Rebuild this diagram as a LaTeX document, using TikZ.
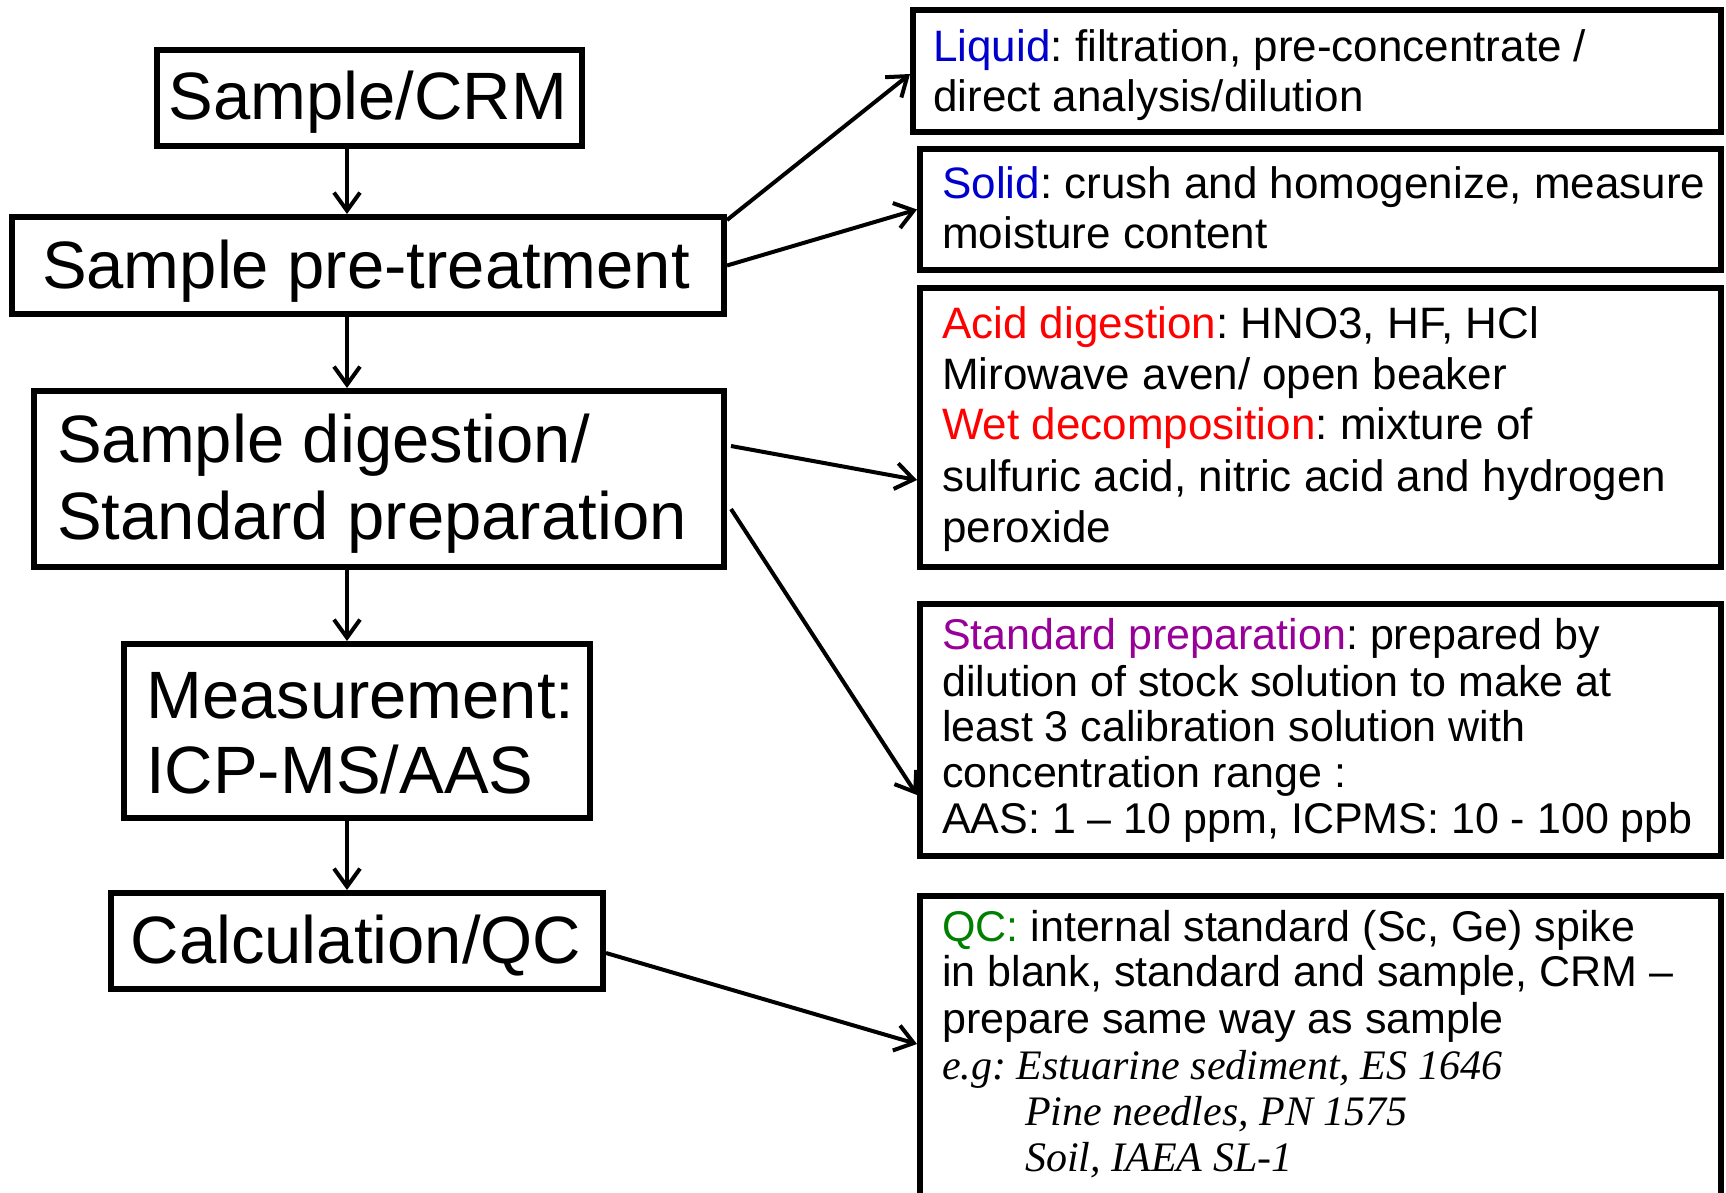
\documentclass[tikz,border=0pt]{standalone}
\usepackage{fontspec}
\setmainfont{Liberation Sans}
\newfontfamily\tms{Liberation Serif}
\usetikzlibrary{arrows.meta,calc}
\definecolor{cblue}{RGB}{0,0,204}
\definecolor{cred}{RGB}{255,0,0}
\definecolor{cpurple}{RGB}{153,0,153}
\definecolor{cgreen}{RGB}{0,128,0}
\begin{document}
\frenchspacing
\begin{tikzpicture}[x=1pt,y=-1pt,
  box/.style={draw,line width=6pt,inner sep=0pt},
  arr/.style={line width=4pt,-{Straight Barb[length=18pt,width=26pt]}},
  big/.style={font=\fontsize{67}{75}\selectfont,inner sep=0pt},
  sm/.style={font=\fontsize{44}{51}\selectfont,inner sep=0pt,anchor=base west},
  smb/.style={font=\fontsize{43}{46}\selectfont,inner sep=0pt,anchor=base west},
  ita/.style={font=\fontsize{42}{46}\tms\itshape,inner sep=0pt,anchor=base west},
]
\useasboundingbox (0,0) rectangle (1726,1192);
\fill[white] (0,0) rectangle (1726,1192);

% left boxes
\node[box,minimum width=425pt,minimum height=96pt] (crm) at (369.5,98) {};
\node[box,minimum width=712pt,minimum height=97pt] (pre) at (368,265.5) {};
\node[box,minimum width=690pt,minimum height=176pt] (dig) at (379,479) {};
\node[box,minimum width=466pt,minimum height=174pt] (meas) at (357,731) {};
\node[box,minimum width=492pt,minimum height=96pt] (calc) at (357,941) {};

% right boxes
\node[box,minimum width=808pt,minimum height=122pt] (liq) at (1317,71) {};
\node[box,minimum width=801pt,minimum height=121pt] (sol) at (1320.5,209.5) {};
\node[box,minimum width=801pt,minimum height=279pt] (acid) at (1320.5,427.5) {};
\node[box,minimum width=801pt,minimum height=252pt] (std) at (1320.5,730) {};
\node[box,minimum width=801pt,minimum height=304pt] (qc) at (1320.5,1048) {};

% left texts
\node[big,anchor=base] (t1) at (368,119) {Sample/CRM};
\node[big,anchor=base] (t2) at (366,288) {Sample pre-treatment};
\node[big,anchor=base west] (t3a) at (57,462) {Sample digestion/};
\node[big,anchor=base west] (t3b) at (57,539) {Standard preparation};
\node[big,anchor=base west] (t4a) at (146,718) {Measurement:};
\node[big,anchor=base west] (t4b) at (146,793) {ICP-MS/AAS};
\node[big,anchor=base] (t5) at (356,963) {Calculation/QC};

% right texts
\node[sm] (l1) at (933,61) {\textcolor{cblue}{Liquid}: filtration, pre-concentrate /};
\node[sm] (l2) at (933,111) {direct analysis/dilution};
\node[sm] (s1) at (942,198) {\textcolor{cblue}{Solid}: crush and homogenize, measure};
\node[sm] (s2) at (942,248) {moisture content};
\node[sm] (a1) at (942,338) {\textcolor{cred}{Acid digestion}: HNO3, HF, HCl};
\node[sm] (a2) at (942,389) {Mirowave aven/ open beaker};
\node[sm] (a3) at (942,439) {\textcolor{cred}{Wet decomposition}: mixture of};
\node[sm] (a4) at (942,491) {sulfuric acid, nitric acid and hydrogen};
\node[sm] (a5) at (942,542) {peroxide};
\node[smb] (p1) at (942,649) {\textcolor{cpurple}{Standard preparation}: prepared by};
\node[smb] (p2) at (942,696) {dilution of stock solution to make at};
\node[smb] (p3) at (942,741) {least 3 calibration solution with};
\node[smb] (p4) at (942,787) {concentration range :};
\node[smb] (p5) at (942,833) {AAS: 1 – 10 ppm, ICPMS: 10 - 100 ppb};
\node[smb] (q1) at (942,941) {\textcolor{cgreen}{QC:} internal standard (Sc, Ge) spike};
\node[smb] (q2) at (942,986) {in blank, standard and sample, CRM –};
\node[smb] (q3) at (942,1033) {prepare same way as sample};
\node[ita] (q4) at (942,1079) {e.g: Estuarine sediment, ES 1646};
\node[ita] (q5) at (1025,1125) {Pine needles, PN 1575};
\node[ita] (q6) at (1025,1171) {Soil, IAEA SL-1};

% vertical arrows
\coordinate (ax) at (347,0);
\draw[arr] (crm.south -| ax) -- (pre.north -| ax);
\draw[arr] (pre.south -| ax) -- (dig.north -| ax);
\draw[arr] (dig.south -| ax) -- (meas.north -| ax);
\draw[arr] (meas.south -| ax) -- (calc.north -| ax);

% side arrows
\draw[arr] ($(pre.north east)+(0,6)$) -- ($(liq.west)+(0,3)$);
\draw[arr] (pre.east) -- (sol.west);
\draw[arr] ($(dig.east)+(4,-33)$) -- ($(acid.west)+(0,52.5)$);
\draw[arr] ($(dig.east)+(4,30)$) -- ($(std.west)+(0,65)$);
\draw[arr] ($(calc.east)+(0,12)$) -- ($(qc.west)+(0,-4)$);
\end{tikzpicture}
\end{document}
